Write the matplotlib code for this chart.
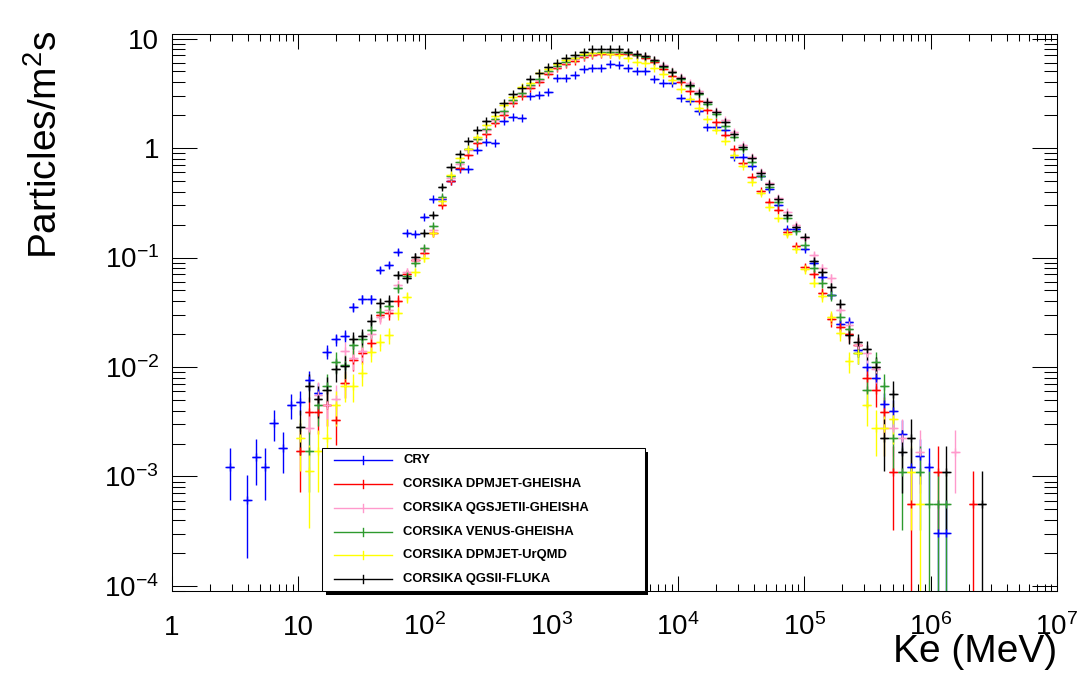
import numpy as np
import matplotlib
matplotlib.use("Agg")
import matplotlib.pyplot as plt
from matplotlib.patches import Rectangle
from matplotlib.lines import Line2D
from matplotlib.ticker import LogLocator, NullFormatter

plt.rcParams['font.family'] = 'Liberation Sans'
plt.rcParams['mathtext.fontset'] = 'custom'
plt.rcParams['mathtext.rm'] = 'Liberation Sans'
plt.rcParams['mathtext.it'] = 'Liberation Sans:italic'
plt.rcParams['mathtext.bf'] = 'Liberation Sans:bold'

# histogram binning: 100 log bins between 1 MeV and 1e7 MeV
n_bins = 100
e_min, e_max = 1.0, 1e7

# weight of a single entry (used for the poisson error bars)
unit_cry = 0.000303
unit_corsika = 0.000557

# values per bin, list starts at bin index *_first
cry_first = 6
cry = [0.00121, 0, 0.00061, 0.00152, 0.00121, 0.00306, 0.00181, 0.0045, 0.00482, 0.0076,
       0.00582, 0.0138, 0.0179, 0.0192, 0.0351, 0.0415, 0.0415, 0.0769, 0.0855, 0.113,
       0.168, 0.164, 0.236, 0.34, 0.34, 0.50, 0.643, 0.643, 0.96, 1.13,
       1.10, 1.76, 1.93, 1.89, 2.98, 3.03, 3.22, 4.33, 4.33, 4.64,
       5.27, 5.41, 5.41, 5.81, 5.69, 5.41, 5.08, 5.08, 4.24, 3.95,
       3.95, 2.84, 2.69, 2.2, 1.55, 1.55, 1.46, 0.83, 0.83, 0.685,
       0.55, 0.42, 0.30, 0.182, 0.182, 0.12, 0.09, 0.067, 0.0455, 0.0247,
       0.0259, 0.0143, 0.0101, 0.0079, 0.0046, 0.00394, 0.00243, 0.00121, 0.00154, 0.00121,
       0.000303, 0.000303]

dpmjet_gheisha_first = 14
dpmjet_gheisha = [0.0017, 0.0039, 0.0039, 0.0045, 0.0033, 0.0072,
                  0.0117, 0.0133, 0.0167, 0.0299, 0.0309, 0.0403, 0.0703, 0.095, 0.111, 0.166,
                  0.30, 0.503, 0.66, 0.863, 1.10, 1.34, 1.70, 2.0, 2.56, 2.98,
                  3.51, 4.03, 4.71, 5.34, 5.85, 6.3, 6.82, 7.1, 7.2, 7.25,
                  7.2, 7.2, 7.0, 6.6, 6.14, 5.23, 4.57, 3.98, 3.34, 2.69,
                  2.22, 1.74, 1.31, 0.98, 0.725, 0.54, 0.407, 0.319, 0.272, 0.172,
                  0.128, 0.0813, 0.0707, 0.0477, 0.0273, 0.0233, 0.02, 0.0159, 0.0079, 0.0062,
                  0.0039, 0.00111, 0, 0.000557, 0, 0, 0.00111, 0, 0, 0,
                  0.000557]

qgsjet_gheisha_first = 15
qgsjet_gheisha = [0.0028, 0.0055, 0.0045, 0.0051,
                  0.0141, 0.012, 0.0141, 0.02, 0.0288, 0.033, 0.0561, 0.073, 0.095, 0.12,
                  0.18, 0.35, 0.53, 0.72, 0.95, 1.2, 1.45, 1.8, 2.15, 2.7,
                  3.15, 3.7, 4.2, 4.9, 5.5, 6.0, 6.5, 6.9, 7.2, 7.4,
                  7.5, 7.5, 7.4, 7.2, 6.9, 6.4, 5.7, 5.1, 4.5, 3.9,
                  3.3, 2.7, 2.2, 1.8, 1.4, 1.07, 0.82, 0.6, 0.48, 0.35,
                  0.262, 0.2, 0.15, 0.105, 0.08, 0.065, 0.033, 0.0242, 0.0159, 0.0133,
                  0.0095, 0.0028, 0.0028, 0.00224, 0, 0.00167, 0, 0, 0, 0.00167]

venus_gheisha_first = 15
venus_gheisha = [0.0017, 0.0045, 0.0067, 0.0112,
                 0.0104, 0.0159, 0.018, 0.022, 0.032, 0.036, 0.0524, 0.068, 0.09, 0.121,
                 0.194, 0.36, 0.55, 0.75, 0.98, 1.22, 1.5, 1.85, 2.2, 2.75,
                 3.2, 3.8, 4.3, 5.0, 5.6, 6.1, 6.6, 7.0, 7.4, 7.5,
                 7.6, 7.5, 7.4, 7.1, 6.8, 6.3, 5.5, 4.9, 4.3, 3.7,
                 3.1, 2.5, 2.05, 1.6, 1.25, 0.97, 0.75, 0.56, 0.44, 0.32,
                 0.228, 0.175, 0.13, 0.08, 0.058, 0.0455, 0.0288, 0.0222, 0.0133, 0.0062,
                 0.0112, 0.0067, 0.00224, 0.00111, 0, 0.00111, 0.000557, 0.000557, 0.000557]

dpmjet_urqmd_first = 14
dpmjet_urqmd = [0.00224, 0.00113, 0.0017, 0.00224, 0.0045, 0.0067,
                0.0067, 0.0089, 0.0138, 0.017, 0.0196, 0.0309, 0.0433, 0.0742, 0.098, 0.166,
                0.33, 0.567, 0.805, 0.99, 1.27, 1.62, 1.96, 2.47, 2.94, 3.63,
                3.95, 4.8, 5.23, 5.9, 6.4, 6.6, 7.2, 7.4, 7.4, 7.2,
                7.07, 6.6, 6.06, 5.93, 5.34, 4.71, 4.18, 3.44, 2.82, 2.3,
                1.83, 1.46, 1.17, 0.87, 0.685, 0.492, 0.39, 0.287, 0.228, 0.164,
                0.119, 0.078, 0.059, 0.0445, 0.0288, 0.0206, 0.0113, 0.0133, 0.0045, 0.0028,
                0.0028, 0.00333, 0, 0.00111, 0.000557]

qgsii_fluka_first = 14
qgsii_fluka = [0.00281, 0.0067, 0.00507, 0.0062, 0.0096, 0.0102,
               0.0179, 0.0192, 0.0265, 0.0382, 0.0403, 0.0692, 0.0645, 0.1016, 0.166, 0.244,
               0.44, 0.667, 0.89, 1.16, 1.46, 1.77, 2.12, 2.56, 3.09, 3.55,
               4.24, 4.81, 5.46, 5.93, 6.59, 7.0, 7.5, 7.97, 8.1, 8.1,
               8.1, 7.5, 7.2, 6.87, 6.36, 5.61, 4.94, 4.38, 3.76, 3.16,
               2.61, 2.15, 1.72, 1.35, 1.03, 0.815, 0.594, 0.469, 0.34, 0.243,
               0.189, 0.153, 0.0935, 0.073, 0.0535, 0.0376, 0.0196, 0.0168, 0.0145, 0.01,
               0.00224, 0.00562, 0.00167, 0.00224, 0, 0, 0, 0.00111, 0, 0,
               0, 0.000557]

labels = ["CRY", "CORSIKA DPMJET-GHEISHA", "CORSIKA QGSJETII-GHEISHA",
          "CORSIKA VENUS-GHEISHA", "CORSIKA DPMJET-UrQMD", "CORSIKA QGSII-FLUKA"]
colors = ["#0000ff", "#ff0000", "#ff99cc", "#2e9a2e", "#ffff00", "#000000"]

series = [
    (cry_first, cry, unit_cry),
    (dpmjet_gheisha_first, dpmjet_gheisha, unit_corsika),
    (qgsjet_gheisha_first, qgsjet_gheisha, unit_corsika),
    (venus_gheisha_first, venus_gheisha, unit_corsika),
    (dpmjet_urqmd_first, dpmjet_urqmd, unit_corsika),
    (qgsii_fluka_first, qgsii_fluka, unit_corsika),
]

x_ticks = [1, 10, 1e2, 1e3, 1e4, 1e5, 1e6, 1e7]
x_tick_labels = ["1", "10", "$10^{2}$", "$10^{3}$", "$10^{4}$", "$10^{5}$", "$10^{6}$", "$10^{7}$"]
y_ticks = [1e-4, 1e-3, 1e-2, 1e-1, 1, 10]
y_tick_labels = ["$10^{-4}$", "$10^{-3}$", "$10^{-2}$", "$10^{-1}$", "1", "10"]

W, H = 1078, 680


def fx(x):
    return x / W


def fy(y):
    return 1 - y / H


fig = plt.figure(figsize=(W / 100, H / 100), dpi=100)
ax = fig.add_axes([fx(172), fy(591), (1057 - 172) / W, (591 - 34) / H])
ax.set_xscale('log')
ax.set_yscale('log')

edges = np.logspace(np.log10(e_min), np.log10(e_max), n_bins + 1)

for (first, vals, unit), color in zip(series, colors):
    v = np.array(vals, dtype=float)
    lo = edges[first:first + len(v)]
    hi = edges[first + 1:first + len(v) + 1]
    xc = np.sqrt(lo * hi)
    keep = v > 0
    v, lo, hi, xc = v[keep], lo[keep], hi[keep], xc[keep]
    err = np.sqrt(v * unit)
    bottom = np.maximum(v - err, 1e-7)
    # ROOT draws a "+" marker at each point on top of the error cross
    ax.errorbar(xc, v, xerr=[xc - lo, hi - xc], yerr=[v - bottom, err],
                fmt='+', color=color, ms=6, mew=1.0,
                ecolor=color, elinewidth=1.0, capsize=0)

ax.set_xlim(e_min, e_max)
ax.set_ylim(9.0e-5, 11.0)

ax.set_xticks(x_ticks, x_tick_labels)
ax.set_yticks(y_ticks, y_tick_labels)
ax.xaxis.set_minor_locator(LogLocator(base=10, subs=np.arange(2, 10), numticks=30))
ax.yaxis.set_minor_locator(LogLocator(base=10, subs=np.arange(2, 10), numticks=30))
ax.xaxis.set_minor_formatter(NullFormatter())
ax.yaxis.set_minor_formatter(NullFormatter())

ax.tick_params(which='both', direction='in', top=True, right=True, width=0.75, color='black')
ax.tick_params(axis='x', which='major', length=10.8, labelsize=20, pad=31.5)
ax.tick_params(axis='x', which='minor', length=5)
ax.tick_params(axis='y', which='major', length=18, labelsize=20, pad=9.4)
ax.tick_params(axis='y', which='minor', length=9.4)
for lab in ax.get_xticklabels():
    lab.set_verticalalignment('baseline')
for sp in ax.spines.values():
    sp.set_linewidth(0.75)

fig.text(fx(46), fy(30), "Particles/m$^{2}$s", rotation=90, ha='center', va='top', fontsize=28)
fig.text(fx(1057), fy(662), "Ke (MeV)", ha='right', va='baseline', fontsize=28)

# legend box with shadow, drawn by hand like ROOT's TLegend
fig.add_artist(Rectangle((fx(326), fy(595)), (648 - 326) / W, (595 - 452) / H,
                         transform=fig.transFigure, facecolor='black', edgecolor='none', zorder=10))
fig.add_artist(Rectangle((fx(322), fy(591)), (645 - 322) / W, (591 - 448) / H,
                         transform=fig.transFigure, facecolor='white', edgecolor='black',
                         linewidth=0.75, zorder=11))
row_y = [460, 484, 508, 532, 555, 579]
for yr, lab, color in zip(row_y, labels, colors):
    fig.add_artist(Line2D([fx(334), fx(392)], [fy(yr), fy(yr)], transform=fig.transFigure,
                          color=color, lw=1.0, zorder=12))
    fig.add_artist(Line2D([fx(363), fx(363)], [fy(yr - 4), fy(yr + 4)], transform=fig.transFigure,
                          color=color, lw=1.0, zorder=12))
    fig.text(fx(403), fy(yr), lab, fontsize=9.4, fontweight='bold', va='center', zorder=12)

fig.savefig("out.png", dpi=100)
